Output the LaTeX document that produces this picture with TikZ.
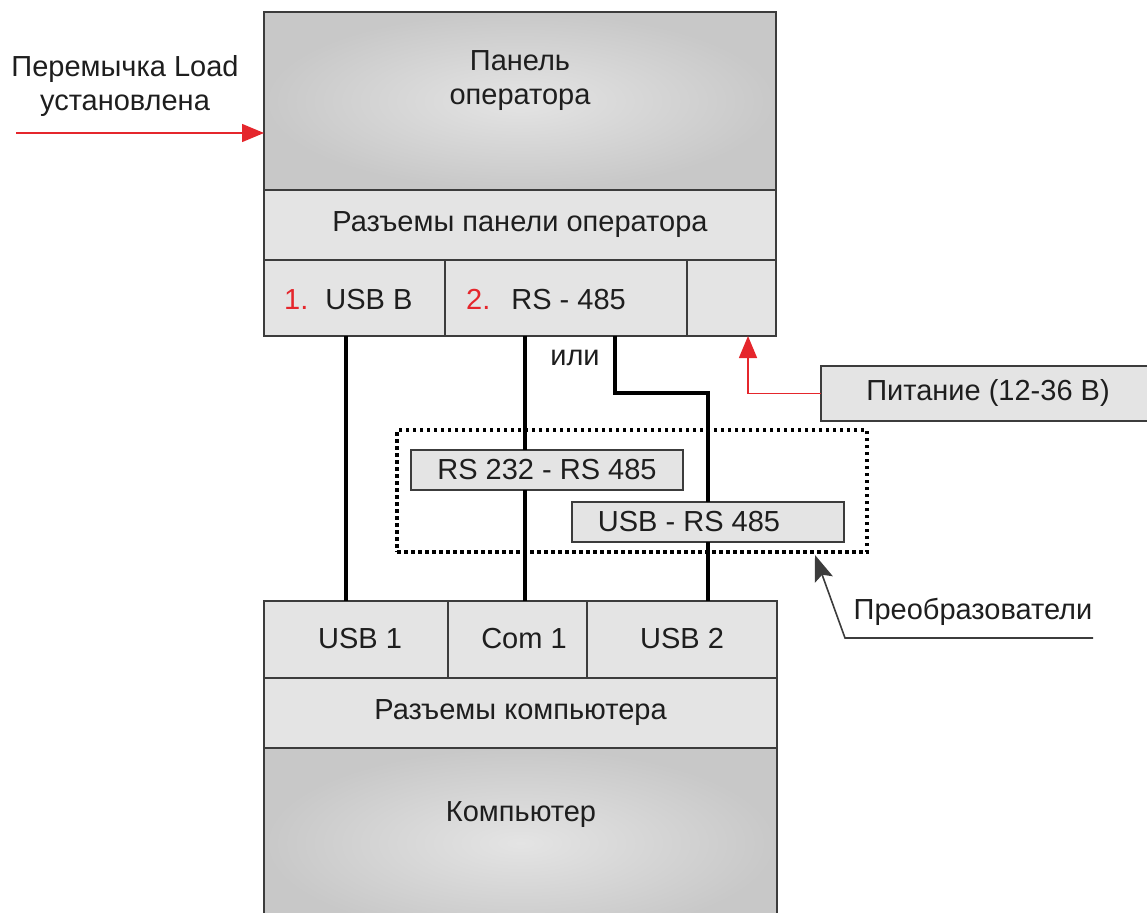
\documentclass[tikz,border=0pt]{standalone}
\usepackage{fontspec}
\setmainfont{Liberation Sans}
\usetikzlibrary{arrows.meta,calc}
\definecolor{edge}{HTML}{3C3C3C}
\definecolor{rowfill}{HTML}{E4E4E4}
\definecolor{shadeout}{HTML}{C8C8C8}
\definecolor{shadein}{HTML}{E4E4E4}
\definecolor{txt}{HTML}{1E1E1E}
\definecolor{redline}{HTML}{E5262C}
\begin{document}
\begin{tikzpicture}[x=1pt,y=-1pt,
  box/.style={draw=edge,line width=1.5pt,fill=rowfill,anchor=north west,inner sep=0pt,outer sep=0pt},
  bigbox/.style={draw=edge,line width=1.5pt,anchor=north west,inner sep=0pt,outer sep=0pt,inner color=shadein,outer color=shadeout},
  lbl/.style={text=txt,font=\fontsize{29}{34}\selectfont,inner sep=0pt,align=center},
  wire/.style={line width=3.5pt,black},
  redarrow/.style={draw=redline,line width=1.5pt,-{Triangle[length=22pt,width=18pt]}},
  blkarrow/.style={draw=edge,line width=1.6pt,-{Stealth[length=26pt,width=19pt,inset=5pt]}},
  dotbox/.style={draw=black,line width=3.5pt,dash pattern=on 3.5pt off 3.5pt,anchor=north west,inner sep=0pt,outer sep=0pt}
]
\useasboundingbox (0,0) rectangle (1147,912);

% operator panel block
\node[bigbox,minimum width=512pt,minimum height=178pt] (panel) at (264,12) {};
\node[lbl] (paneltxt) at (520,81) {Панель\\оператора};
\node[box,minimum width=512pt,minimum height=70pt] (prow) at (264,190) {};
\node[lbl] (prowtxt) at (prow.center) {Разъемы панели оператора};
\node[box,minimum width=181pt,minimum height=76pt] (p1) at (264,260) {};
\node[box,minimum width=242pt,minimum height=76pt] (p2) at (445,260) {};
\node[box,minimum width=89pt,minimum height=76pt] (p3) at (687,260) {};
\node[lbl,anchor=west] (p1txt) at (284,300) {\textcolor{redline}{1.}\hspace{17pt}USB B};
\node[lbl,anchor=west] (p2txt) at (466,300) {\textcolor{redline}{2.}\hspace{21pt}RS - 485};

% computer block
\node[box,minimum width=184pt,minimum height=77pt] (u1) at (264,601) {};
\node[box,minimum width=139pt,minimum height=77pt] (c1) at (448,601) {};
\node[box,minimum width=190pt,minimum height=77pt] (u2) at (587,601) {};
\node[lbl] (u1txt) at (360,639) {USB 1};
\node[lbl] (c1txt) at (524,639) {Com 1};
\node[lbl] (u2txt) at (682,639) {USB 2};
\node[box,minimum width=513pt,minimum height=70pt] (crow) at (264,678) {};
\node[lbl] (crowtxt) at (crow.center) {Разъемы компьютера};
\node[bigbox,minimum width=513pt,minimum height=190pt] (comp) at (264,748) {};
\node[lbl] (comptxt) at (521,815) {Компьютер};

% converters
\node[dotbox,minimum width=470pt,minimum height=122pt] (conv) at (397,430) {};
\node[box,minimum width=272pt,minimum height=40pt] (rs232) at (411,450) {};
\node[lbl] (rs232txt) at (rs232.center) {RS 232 - RS 485};
\node[box,minimum width=272pt,minimum height=40pt] (usbrs) at (572,502) {};
\node[lbl] (usbrstxt) at (689,522) {USB - RS 485};

% power
\node[box,minimum width=330pt,minimum height=55pt] (pw) at (821,366) {};
\node[lbl] (pwtxt) at (988,393) {Питание (12-36 В)};

% labels
\node[lbl] (jumper) at (125,86) {Перемычка Load\\установлена};
\node[lbl] (ili) at (575,358) {или};
\node[lbl] (preobr) at (973,612) {Преобразователи};

% wires
\coordinate (xa) at (346,0);
\coordinate (xb) at (525,0);
\coordinate (xc) at (615,0);
\coordinate (xd) at (708,0);
\coordinate (jog) at (615,393);
\draw[wire] (xa |- p1.south) -- (xa |- u1.north);
\draw[wire] (xb |- p2.south) -- (xb |- rs232.north);
\draw[wire] (xb |- rs232.south) -- (xb |- c1.north);
\draw[wire] (xc |- p2.south) -- (jog) -- (xd |- jog) -- (xd |- usbrs.north);
\draw[wire] (xd |- usbrs.south) -- (xd |- u2.north);

% red arrows
\coordinate (ls) at (16,133);
\draw[redarrow] (ls) -- (ls -| panel.west);
\coordinate (xr) at (748,0);
\draw[redarrow] (pw.west) -| (xr |- p3.south);

% converter pointer
\coordinate (ue) at (1093,638);
\coordinate (uk) at (845,638);
\coordinate (xt) at (815,0);
\draw[blkarrow] (ue) -- (uk) -- ($(xt |- conv.south)+(0,3)$);
\end{tikzpicture}
\end{document}
